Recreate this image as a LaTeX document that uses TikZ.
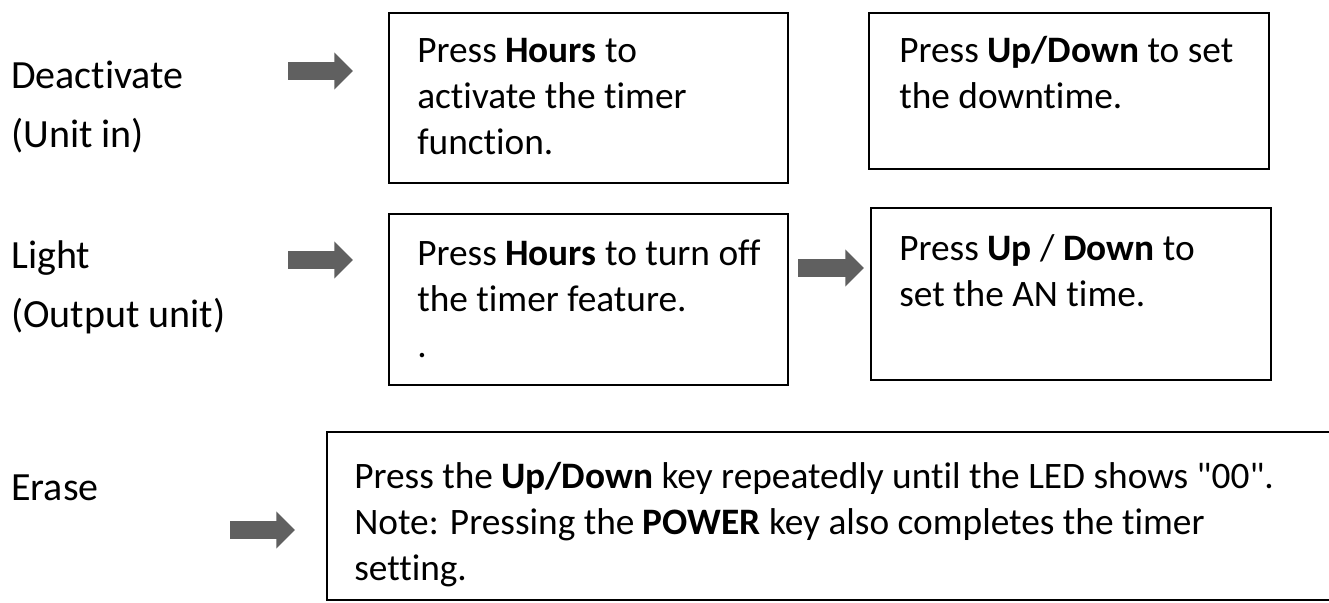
\documentclass[tikz,border=0pt]{standalone}
\usepackage{fontspec}
\setmainfont{Carlito}[Ligatures=NoCommon]
\newfontfamily\plainq{Carlito}[Ligatures=NoCommon]
\usetikzlibrary{arrows.meta}
\begin{document}
\begin{tikzpicture}[x=0.75pt,y=-0.75pt,
  box/.style={draw=black,line width=2pt},
  lbl/.style={anchor=base west,font=\fontsize{30}{44}\selectfont,inner sep=0pt},
  txt/.style={anchor=base west,align=left,font=\fontsize{28}{34.5}\selectfont,inner sep=0pt},
  garrow/.style={draw=gray!75!black,line width=14pt,-{Triangle[length=14pt,width=27pt]}}]
\useasboundingbox (0,0) rectangle (1329,603);
\draw[box] (389,13) rectangle (788,183);
\draw[box] (869,13) rectangle (1269,169);
\draw[box] (389,214) rectangle (788,385);
\draw[box] (871,208) rectangle (1271,380);
\draw[box] (327,432) rectangle (1340,600);
\node[lbl] (l1) at (11,88) {Deactivate};
\node[lbl] (l2) at (11,147) {(Unit in)};
\node[lbl] (l3) at (11,268) {Light};
\node[lbl] (l4) at (11,327) {(Output unit)};
\node[lbl] (l5) at (11,500) {Erase};
\node[txt] (t1) at (417,154) {Press \textbf{Hours} to\\activate the timer\\function.};
\node[txt] (t2) at (899,108) {Press \textbf{Up/Down} to set\\the downtime.};
\node[txt] (t3) at (417,357) {Press \textbf{Hours} to turn off\\the timer feature.\\.};
\node[txt] (t4) at (899,306) {Press \textbf{Up} / \textbf{Down} to\\set the AN time.};
\node[txt] (t5) at (354,580) {Press the \textbf{Up/Down} key repeatedly until the LED shows {\plainq"00"}.\\Note: Pressing the \textbf{POWER} key also completes the timer\\setting.};
\coordinate (a1s) at (288,71); \coordinate (a1e) at (353,71);
\coordinate (a2s) at (288,260); \coordinate (a2e) at (353,260);
\coordinate (a3s) at (798,268); \coordinate (a3e) at (864,268);
\coordinate (a4s) at (230,530); \coordinate (a4e) at (295,530);
\draw[garrow] (a1s) -- (a1e);
\draw[garrow] (a2s) -- (a2e);
\draw[garrow] (a3s) -- (a3e);
\draw[garrow] (a4s) -- (a4e);
\end{tikzpicture}
\end{document}
